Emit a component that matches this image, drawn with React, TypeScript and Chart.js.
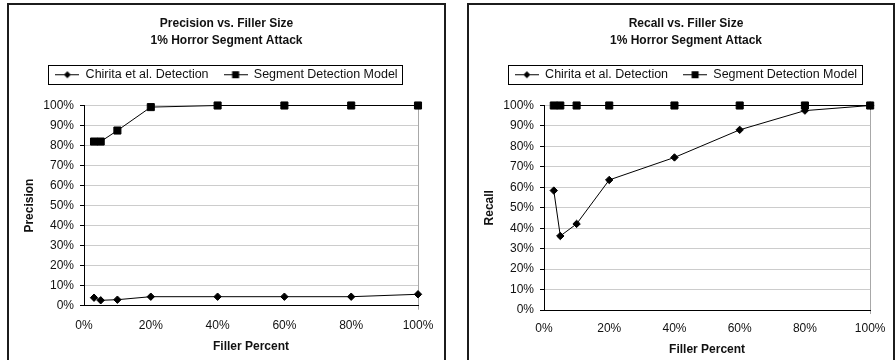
import React, { useEffect, useRef } from 'react';
import { Chart, registerables } from 'chart.js';

Chart.register(...registerables);

// Filler sizes tested (percent of profile filled)
const fillerPercent = [3, 5, 10, 20, 40, 60, 80, 100];

// Precision results
const chiritaPrecision = [4.0, 2.7, 3.0, 4.5, 4.5, 4.5, 4.5, 5.7];
const segmentPrecision = [82, 82, 87.5, 99.2, 100, 100, 100, 100];

// Recall results
const chiritaRecall = [58.4, 36.2, 42.1, 63.6, 74.6, 88.1, 97.5, 100];
const segmentRecall = [100, 100, 100, 100, 100, 100, 100, 100];

const seriesNames = ['Chirita et al. Detection', 'Segment Detection Model'];
const subtitle = '1% Horror Segment Attack';
const xAxisTitle = 'Filler Percent';

const FONT = "'Liberation Sans', Arial, Helvetica, sans-serif";
const INK = '#111';
const SYMBOL_W = 24;
const PLOT_LEFT = 75;
const PLOT_RIGHT = 409;

type Panel = {
  title: string;
  yTitle: string;
  chirita: number[];
  segment: number[];
  width: number;
  padLeft: number;
  xScaleHeight: number;
  xTitlePad: number;
  xTickPad: number;
};

const panels: Panel[] = [
  {
    title: 'Precision vs. Filler Size',
    yTitle: 'Precision',
    chirita: chiritaPrecision,
    segment: segmentPrecision,
    width: 435,
    padLeft: 0,
    xScaleHeight: 55.3,
    xTitlePad: 7,
    xTickPad: 8.5,
  },
  {
    title: 'Recall vs. Filler Size',
    yTitle: 'Recall',
    chirita: chiritaRecall,
    segment: segmentRecall,
    width: 424,
    padLeft: 10,
    xScaleHeight: 51,
    xTitlePad: 4.5,
    xTickPad: 7.5,
  },
];

function legendSymbol(kind: 'diamond' | 'square'): HTMLCanvasElement {
  const c = document.createElement('canvas');
  c.width = SYMBOL_W;
  c.height = 13;
  const g = c.getContext('2d')!;
  const mid = SYMBOL_W / 2;
  g.fillStyle = '#000';
  g.fillRect(0, 6, SYMBOL_W, 1);
  if (kind === 'diamond') {
    g.beginPath();
    g.moveTo(mid - 3.5, 6.5);
    g.lineTo(mid, 3);
    g.lineTo(mid + 3.5, 6.5);
    g.lineTo(mid, 10);
    g.closePath();
    g.fill();
  } else {
    g.fillRect(mid - 3.5, 3, 7, 7);
  }
  return c;
}

// pushes the plot area down below the legend
const legendGap = {
  id: 'legendGap',
  beforeInit(chart: any) {
    const lg = chart.legend;
    if (!lg) return;
    const fit = lg.fit;
    lg.fit = function () {
      fit.call(this);
      this.height += 14.5;
    };
  },
};

// thin frame around the legend entries
const legendFrame = {
  id: 'legendFrame',
  afterDraw(chart: any) {
    const boxes = chart.legend?.legendHitBoxes;
    if (!boxes || !boxes.length) return;
    const ctx = chart.ctx;
    const left = Math.min(...boxes.map((b: any) => b.left)) - 7;
    const right = Math.max(...boxes.map((b: any) => b.left + b.width)) + 5;
    const cy = boxes[0].top + boxes[0].height / 2;
    ctx.save();
    ctx.strokeStyle = '#000';
    ctx.lineWidth = 1;
    ctx.strokeRect(Math.round(left) + 0.5, Math.round(cy - 10) + 0.5, Math.round(right - left), 19);
    ctx.restore();
  },
};

function ChartPanel({ panel }: { panel: Panel }) {
  const ref = useRef<HTMLCanvasElement>(null);

  useEffect(() => {
    if (!ref.current) return;
    const symbols = [legendSymbol('diamond'), legendSymbol('square')];

    const toPoints = (ys: number[]) => fillerPercent.map((x, i) => ({ x, y: ys[i] }));

    const chart = new Chart(ref.current, {
      type: 'line',
      data: {
        datasets: [
          {
            label: seriesNames[0],
            data: toPoints(panel.chirita),
            borderColor: '#000',
            backgroundColor: '#000',
            borderWidth: 1,
            pointStyle: 'rectRot',
            pointRadius: 3.7,
            pointBorderWidth: 1,
            pointBackgroundColor: '#000',
            pointBorderColor: '#000',
            clip: false,
          },
          {
            label: seriesNames[1],
            data: toPoints(panel.segment),
            borderColor: '#000',
            backgroundColor: '#000',
            borderWidth: 1,
            pointStyle: 'rect',
            pointRadius: 5,
            pointBorderWidth: 1,
            pointBackgroundColor: '#000',
            pointBorderColor: '#000',
            clip: false,
          },
        ],
      },
      options: {
        animation: false,
        responsive: false,
        events: [],
        layout: { padding: { left: panel.padLeft, right: 0, top: 0, bottom: 0 } },
        plugins: {
          title: {
            display: true,
            text: [panel.title, subtitle],
            color: INK,
            font: { family: FONT, size: 12, weight: 'bold', lineHeight: 17 / 12 },
            padding: { top: 10.5, bottom: 4 },
          },
          legend: {
            display: true,
            position: 'top',
            labels: {
              color: INK,
              font: { family: FONT, size: 12.5 },
              padding: 15,
              usePointStyle: true,
              pointStyleWidth: SYMBOL_W,
              generateLabels(chart: any) {
                const items = Chart.defaults.plugins.legend.labels.generateLabels(chart);
                items.forEach((it: any, i: number) => {
                  it.pointStyle = symbols[i];
                });
                return items;
              },
            },
          },
          tooltip: { enabled: false },
        },
        scales: {
          x: {
            type: 'linear',
            min: 0,
            max: 100,
            afterFit(scale: any) {
              scale.height = panel.xScaleHeight;
            },
            ticks: {
              stepSize: 20,
              color: INK,
              padding: panel.xTickPad,
              font: { family: FONT, size: 12 },
              maxRotation: 0,
              callback: (v: any) => v + '%',
            },
            grid: {
              display: true,
              drawOnChartArea: true,
              drawTicks: true,
              tickLength: 4,
              lineWidth: 1,
              color: (c: any) => (c.tick && c.tick.value === 100 ? '#a8a8a8' : 'rgba(0,0,0,0)'),
              tickColor: (c: any) => (c.tick && c.tick.value === 100 ? '#a8a8a8' : 'rgba(0,0,0,0)'),
            },
            border: { display: true, color: '#000', width: 1 },
            title: {
              display: true,
              text: xAxisTitle,
              color: INK,
              font: { family: FONT, size: 12, weight: 'bold' },
              padding: { top: 0, bottom: panel.xTitlePad },
            },
          },
          y: {
            type: 'linear',
            min: 0,
            max: 100,
            afterFit(scale: any) {
              scale.width = PLOT_LEFT - panel.padLeft;
            },
            ticks: {
              stepSize: 10,
              color: INK,
              padding: 6,
              font: { family: FONT, size: 12 },
              callback: (v: any) => v + '%',
            },
            grid: {
              color: '#cccccc',
              lineWidth: 1,
              drawTicks: true,
              tickLength: 4,
              tickColor: '#000',
            },
            border: { display: true, color: '#000', width: 1 },
            title: {
              display: true,
              text: panel.yTitle,
              color: INK,
              font: { family: FONT, size: 12, weight: 'bold' },
              padding: { top: 13.5 - panel.padLeft, bottom: 0 },
            },
          },
          // blank strip that holds the right margin of the plot
          margin: {
            type: 'linear',
            position: 'right',
            display: true,
            afterFit(scale: any) {
              scale.width = panel.width - PLOT_RIGHT;
            },
            ticks: { display: false },
            grid: { display: false, drawTicks: false },
            border: { display: false },
            title: { display: false },
          },
        },
      } as any,
      plugins: [legendGap, legendFrame],
    });

    return () => chart.destroy();
  }, [panel]);

  return <canvas ref={ref} width={panel.width} height={356} style={{ display: 'block' }} />;
}

export default function App() {
  const frame: React.CSSProperties = {
    position: 'absolute',
    top: 3,
    height: 360,
    border: '2px solid #1c1c1c',
    boxSizing: 'border-box',
    background: '#fff',
  };
  return (
    <div
      style={{
        position: 'absolute',
        left: 0,
        top: 0,
        width: 895,
        height: 360,
        overflow: 'hidden',
        background: '#fff',
      }}
    >
      <div style={{ ...frame, left: 7, width: 439 }}>
        <ChartPanel panel={panels[0]} />
      </div>
      <div style={{ ...frame, left: 467, width: 428 }}>
        <ChartPanel panel={panels[1]} />
      </div>
    </div>
  );
}
